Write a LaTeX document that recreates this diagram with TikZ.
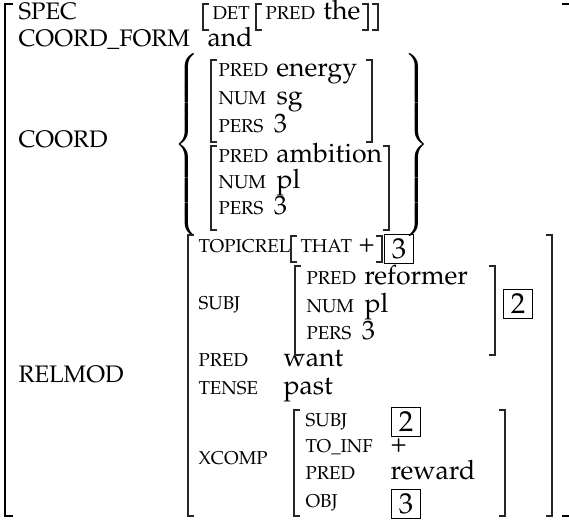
\documentclass[tikz,border=0pt]{standalone}
\usepackage[T1]{fontenc}
\usepackage{mathpazo}
\usetikzlibrary{positioning}

\begin{document}
\begin{tikzpicture}[
    x=0.36pt, y=-0.36pt,
    node distance=2.6pt,
    top/.style={anchor=base west, inner sep=0pt, font=\fontsize{8.6}{10}\selectfont},
    feat/.style={anchor=base west, inner sep=0pt, font=\fontsize{6.7}{8}\selectfont},
    val/.style={anchor=base west, inner sep=0pt, font=\fontsize{9.6}{11}\selectfont},
    tag/.style={draw, line width=0.65pt, minimum size=10.5pt, inner sep=0pt, font=\fontsize{10.4}{12}\selectfont},
    brk/.style={draw=black!85, line width=0.45pt},
    outerbrk/.style={draw=black, line width=0.75pt},
]
\useasboundingbox (0,0) rectangle (569,526);

% outer level
\node[top] (spec) at (18,20) {SPEC};
\node[top] (cform) at (18,47) {COORD\_FORM};
\node[val] (and) at (207,47) {and};
\node[top] (coord) at (18,148) {COORD};
\node[top] (relmod) at (18,383) {RELMOD};

% SPEC value
\node[feat] (det) at (212,20) {DET};
\node[feat] (detpred) at (265,20) {PRED};
\node[val, base right=of detpred] (the) {the};

% COORD set
\node[inner sep=0pt] (lbrace) at (189,145) {$\left\{\vrule height 30pt depth 30pt width 0pt\right.$};
\node[inner sep=0pt] (rbrace) at (415,145) {$\left.\vrule height 30pt depth 30pt width 0pt\right\}$};
\node[feat] (en1) at (218,77) {PRED};
\node[val, base right=of en1] (energy) {energy};
\node[feat] (en2) at (218,105) {NUM};
\node[val, base right=3.4pt of en2] (sg) {sg};
\node[feat] (en3) at (218,133) {PERS};
\node[val, base right=3.4pt of en3] (pers1) {3};
\node[feat] (am1) at (218,163) {PRED};
\node[val, base right=of am1] (ambition) {ambition};
\node[feat] (am2) at (218,189) {NUM};
\node[val, base right=3.4pt of am2] (pl1) {pl};
\node[feat] (am3) at (218,215) {PERS};
\node[val, base right=3.4pt of am3] (pers2) {3};

% RELMOD value
\node[feat] (topic) at (198,253) {TOPICREL};
\node[feat] (that) at (300,253) {THAT};
\node[val, base right=2pt of that] (plusA) {+};
\node[tag] (tagA) at (399,249) {3};
\node[feat] (subj) at (198,310) {SUBJ};
\node[feat] (ref1) at (306,285) {PRED};
\node[val, base right=of ref1] (reformer) {reformer};
\node[feat] (ref2) at (306,313) {NUM};
\node[val, base right=3.4pt of ref2] (pl2) {pl};
\node[feat] (ref3) at (306,340) {PERS};
\node[val, base right=3.4pt of ref3] (pers3) {3};
\node[tag] (tagB) at (518,304) {2};
\node[feat] (pred) at (198,367) {PRED};
\node[val] (want) at (283,367) {want};
\node[feat] (tense) at (198,395) {TENSE};
\node[val] (past) at (283,395) {past};
\node[feat] (xcomp) at (198,465) {XCOMP};
\node[feat] (xsubj) at (305,427) {SUBJ};
\node[tag] (tagC) at (406,422) {2};
\node[feat] (xinf) at (305,453) {TO\_INF};
\node[val] (plusB) at (390,453) {+};
\node[feat] (xpred) at (305,480) {PRED};
\node[val] (reward) at (390,480) {reward};
\node[feat] (xobj) at (305,508) {OBJ};
\node[tag] (tagD) at (406,504) {3};

% brackets
\draw[outerbrk] (13,4) -- (5,4) -- (5,516) -- (13,516);
\draw[outerbrk] (562,4) -- (570,4) -- (570,516) -- (562,516);
\foreach \x/\t/\b in {203/4/30, 256/4/30, 211/60/142, 211/146/230, 188/235/516, 291/236/262, 295/266/355, 294/410/516}
  \draw[brk] (\x+6,\t) -- (\x,\t) -- (\x,\b) -- (\x+6,\b);
\foreach \x/\t/\b in {368/4/30, 378/4/30, 372/60/142, 389/146/230, 552/235/516, 382/236/262, 495/266/355, 505/410/516}
  \draw[brk] (\x-6,\t) -- (\x,\t) -- (\x,\b) -- (\x-6,\b);
\end{tikzpicture}
\end{document}
